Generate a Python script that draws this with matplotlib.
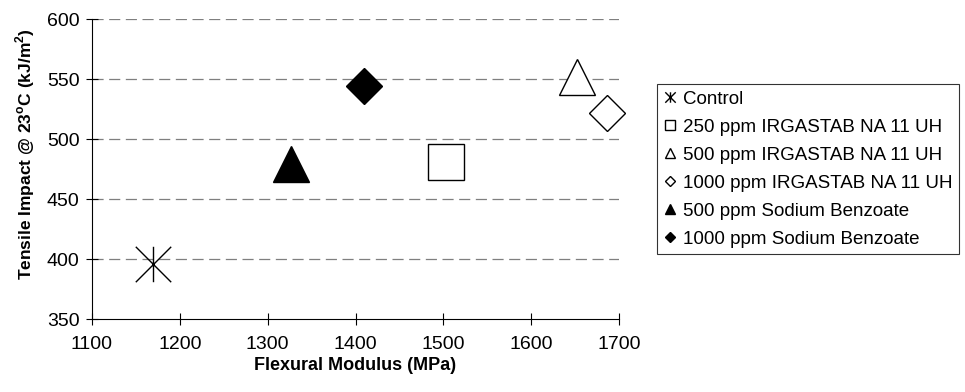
import matplotlib
matplotlib.use("Agg")
import matplotlib.pyplot as plt
from matplotlib.lines import Line2D
from matplotlib.path import Path

plt.rcParams["font.family"] = ["Liberation Sans", "DejaVu Sans"]
plt.rcParams["mathtext.fontset"] = "custom"
plt.rcParams["mathtext.rm"] = "Liberation Sans"
plt.rcParams["mathtext.bf"] = "Liberation Sans:bold"
plt.rcParams["lines.scale_dashes"] = False

# data
labels = [
    "Control",
    "250 ppm IRGASTAB NA 11 UH",
    "500 ppm IRGASTAB NA 11 UH",
    "1000 ppm IRGASTAB NA 11 UH",
    "500 ppm Sodium Benzoate",
    "1000 ppm Sodium Benzoate",
]
flexural_modulus = [1170, 1503, 1652, 1686, 1326, 1410]
tensile_impact = [396, 481, 552, 522, 479, 544]

x_ticks = [1100, 1200, 1300, 1400, 1500, 1600, 1700]
y_ticks = [350, 400, 450, 500, 550, 600]

# excel style asterisk: vertical bar + X
star = Path(
    [(0, -1), (0, 1), (-1, -1), (1, 1), (-1, 1), (1, -1)],
    [Path.MOVETO, Path.LINETO, Path.MOVETO, Path.LINETO, Path.MOVETO, Path.LINETO],
)

markers = [star, "s", "^", "D", "^", "D"]
faces = ["none", "white", "white", "white", "black", "black"]
sizes = [25.5, 25.5, 25.5, 18, 25.5, 18]
legend_sizes = [7.5, 7.5, 7.5, 5.5, 7.5, 5.5]

fig = plt.figure(figsize=(9.65, 3.92), dpi=100)
ax = fig.add_axes([92 / 965, 1 - 319 / 392, 527 / 965, 300 / 392])

for y in y_ticks[1:]:
    ax.axhline(y, color="#7f7f7f", lw=0.9, ls=(0, (8, 4)), zorder=1)

handles = []
for i in range(len(labels)):
    ax.plot(
        flexural_modulus[i],
        tensile_impact[i],
        marker=markers[i],
        ms=sizes[i],
        mfc=faces[i],
        mec="black",
        mew=1.0,
        ls="none",
        zorder=3,
        clip_on=False,
    )
    handles.append(
        Line2D(
            [], [],
            marker=markers[i],
            ms=legend_sizes[i],
            mfc=faces[i],
            mec="black",
            mew=1.0,
            ls="none",
        )
    )

ax.set_xlim(1100, 1700)
ax.set_ylim(350, 600)
ax.set_xticks(x_ticks)
ax.set_yticks(y_ticks)

for side in ["top", "right"]:
    ax.spines[side].set_visible(False)
for side in ["left", "bottom"]:
    ax.spines[side].set_linewidth(0.8)

ax.tick_params(direction="inout", length=8, width=0.8, labelsize=14)
ax.tick_params(axis="y", pad=5)
ax.tick_params(axis="x", pad=8)

fig.text(
    25 / 965, 1 - 154 / 392,
    r"Tensile Impact @ 23$^{\mathbf{o}}$C (kJ/m$^{\mathbf{2}}$)",
    rotation=90, ha="center", va="center",
    fontsize=12.5, fontweight="bold",
)
fig.text(
    355 / 965, 1 - 365 / 392,
    "Flexural Modulus (MPa)",
    ha="center", va="center",
    fontsize=13, fontweight="bold",
)

leg = fig.legend(
    handles,
    labels,
    loc="upper left",
    bbox_to_anchor=(657 / 965, 1 - 84 / 392),
    fontsize=13.5,
    frameon=True,
    fancybox=False,
    borderpad=0.35,
    labelspacing=0.58,
    handlelength=0.7,
    handletextpad=0.35,
    borderaxespad=0,
)
leg.get_frame().set_edgecolor("black")
leg.get_frame().set_linewidth(0.8)

fig.savefig("out.png", dpi=100)
